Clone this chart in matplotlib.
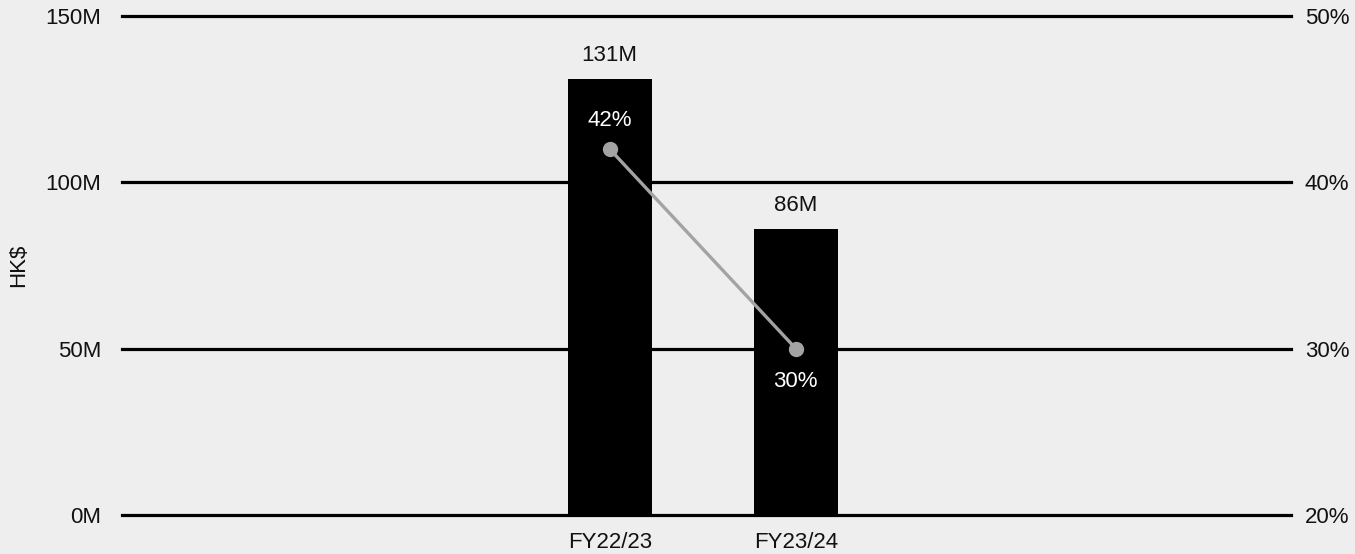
import matplotlib
matplotlib.use("Agg")
import matplotlib.pyplot as plt

# Data
categories = ["FY22/23", "FY23/24"]
revenue_m = [131, 86]          # HK$ millions
margin_pct = [42, 30]          # percent
left_ticks = [0, 50, 100, 150]
left_tick_labels = ["0M", "50M", "100M", "150M"]
right_ticks = [20, 30, 40, 50]
right_tick_labels = ["20%", "30%", "40%", "50%"]

plt.rcParams["font.family"] = ["Liberation Sans", "DejaVu Sans"]
bg = "#eeeeee"
line_grey = "#a3a3a3"

fig = plt.figure(figsize=(13.55, 5.54), dpi=100, facecolor=bg)
ax = fig.add_axes([0.0900, 0.0704, 0.9528 - 0.0900, 0.9711 - 0.0704])
ax.set_facecolor(bg)

x = list(range(len(categories)))

# horizontal reference lines
for t in left_ticks:
    ax.axhline(t, color="black", lw=2.3, zorder=1, clip_on=False)

ax.bar(x, revenue_m, width=0.45, color="black", zorder=2)
for xi, v in zip(x, revenue_m):
    ax.annotate(f"{v}M", (xi, v), xytext=(0, 9.5), textcoords="offset points",
                ha="center", va="bottom", fontsize=16, color="#111111")

ax.set_xlim(-2.62, 3.66)
ax.set_ylim(0, 150)
ax.set_yticks(left_ticks, left_tick_labels)
ax.set_xticks(x, categories)
ax.tick_params(axis="both", length=0, labelsize=16, colors="#111111")
ax.tick_params(axis="y", pad=15)
ax.tick_params(axis="x", pad=12.5)
ax.set_ylabel("HK$", fontsize=16, labelpad=11.5, color="#111111")
for s in ax.spines.values():
    s.set_visible(False)

ax2 = ax.twinx()
ax2.set_ylim(20, 50)
ax2.set_yticks(right_ticks, right_tick_labels)
ax2.tick_params(axis="y", length=0, labelsize=16, pad=10, colors="#111111")
for s in ax2.spines.values():
    s.set_visible(False)
ax2.plot(x, margin_pct, color=line_grey, lw=2.4, marker="o", markersize=10,
         markerfacecolor=line_grey, markeredgecolor=line_grey, zorder=3)
offsets = [20.5, -23.5]
for xi, v, off in zip(x, margin_pct, offsets):
    ax2.annotate(f"{v}%", (xi, v), xytext=(0, off), textcoords="offset points",
                 ha="center", va="center", fontsize=16, color="white")

fig.savefig("out.png", dpi=100, facecolor=bg)
